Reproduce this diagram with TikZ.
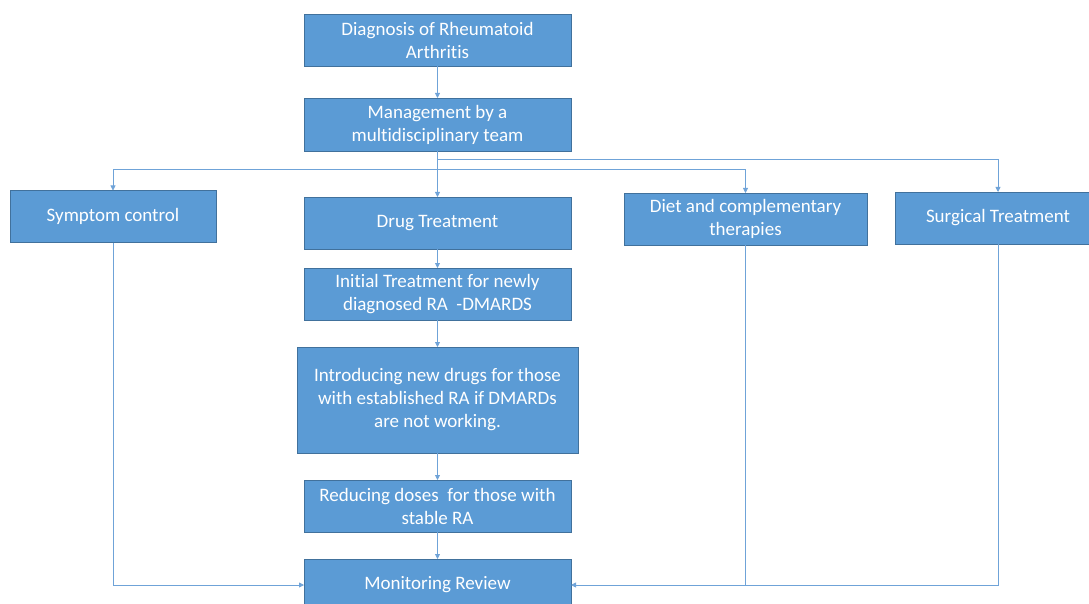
\documentclass[tikz,border=0pt]{standalone}
\usepackage{fontspec}
\setmainfont{Carlito}[Ligatures=NoCommon]
\usepackage{xcolor}
\usetikzlibrary{arrows.meta,positioning}
\definecolor{boxfill}{HTML}{5B9BD5}
\definecolor{boxline}{HTML}{41719C}
\definecolor{linkblue}{HTML}{6FA3D8}

\begin{document}
\begin{tikzpicture}[x=1pt,y=-1pt,>={Triangle[length=5pt,width=5pt]},font=\fontsize{19}{23}\selectfont]
\tikzset{box/.style={draw=boxline,line width=0.9pt,fill=boxfill,text=white,align=center,minimum width=267pt,minimum height=52pt,inner sep=2pt,outer sep=0pt},
arr/.style={->,line width=0.8pt,color=linkblue}}
\useasboundingbox (0,0) rectangle (1089,604);
\node[box] (diag) at (437.5,40) {Diagnosis of Rheumatoid\\Arthritis};
\node[box,minimum height=53pt,below=32pt of diag] (mgmt) {Management by a\\multidisciplinary team};
\node[box,below=46pt of mgmt] (drug) {Drug Treatment};
\node[box,below=19pt of drug] (init) {Initial Treatment for newly\\diagnosed RA\ \ -DMARDS};
\node[box,minimum width=281pt,minimum height=106pt,below=27pt of init] (intro) {Introducing new drugs for those\\with established RA if DMARDs\\are not working.};
\node[box,below=27pt of intro] (reduce) {Reducing doses\ \ for those with\\stable RA};
\node[box,below=27pt of reduce] (monitor) {Monitoring Review};
\node[box,minimum width=206pt] (symp) at (113,216.5) {Symptom control};
\node[box,minimum width=243pt] (diet) at (745.5,219) {Diet and complementary\\therapies};
\node[box,minimum width=206pt] (surg) at (998,218) {Surgical Treatment};
% branches from the team
\draw[arr] (diag)--(mgmt);
\draw[arr] (mgmt)--(drug);
\draw[arr] (mgmt.south) -- ++(0,18) -| (symp.north);
\draw[arr] (mgmt.south) -- ++(0,18) -| (diet.north);
\draw[arr] (mgmt.south) -- ++(0,8) -| (surg.north);
% drug chain
\draw[arr] (drug)--(init);
\draw[arr] (init)--(intro);
\draw[arr] (intro)--(reduce);
\draw[arr] (reduce)--(monitor);
% back to review
\draw[arr] (symp.south) |- (monitor.west);
\draw[arr] (surg.south) |- (monitor.east);
\draw[line width=0.8pt,color=linkblue] (diet.south) -- (diet.south |- monitor.east);
\end{tikzpicture}
\end{document}
